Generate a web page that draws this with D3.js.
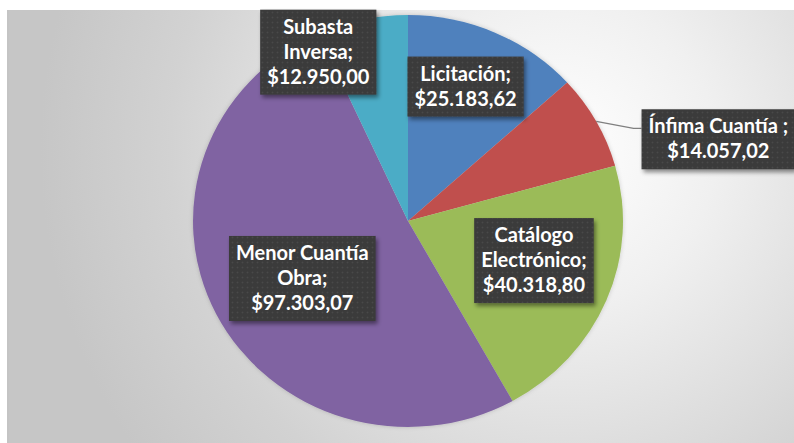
<!DOCTYPE html>
<html>
<head>
<meta charset="utf-8">
<script src="https://cdn.jsdelivr.net/npm/d3@7"></script>
<style>
  body { margin: 0; background: #fff; }
  svg { display: block; }
</style>
</head>
<body>
<script>
// data
const categories = ['Licitación', 'Ínfima Cuantía ', 'Catálogo Electrónico', 'Menor Cuantía Obra', 'Subasta Inversa']
const values = [25183.62, 14057.02, 40318.80, 97303.07, 12950.00]
const labelLines = [['Licitación;'], ['Ínfima Cuantía ;'], ['Catálogo', 'Electrónico;'], ['Menor Cuantía', 'Obra;'], ['Subasta', 'Inversa;']]
const colors = ['#4f81bd', '#c0504d', '#9bbb59', '#8064a2', '#4bacc6']

// label nudges from the slice centroid (x, y)
const labelNudge = [[1, -12], [188, -17], [-3, -12], [19, -3], [-60, -38]]

const W = 794, H = 443
const cx = 408, cy = 221, ry = 206, sx = 215 / 206

const esLocale = d3.formatLocale({ decimal: ',', thousands: '.', grouping: [3], currency: ['$', ''] })
const money = esLocale.format('$,.2f')

let svg, defs

function createSVG() {
  svg = d3.select('body').append('svg').attr('width', W).attr('height', H)
  defs = svg.append('defs')

  const bg = defs.append('radialGradient').attr('id', 'bg')
    .attr('gradientUnits', 'userSpaceOnUse')
    .attr('cx', 560).attr('cy', 150).attr('r', 520)
  bg.append('stop').attr('offset', 0).attr('stop-color', '#ffffff')
  bg.append('stop').attr('offset', 0.3).attr('stop-color', '#f0f0f0')
  bg.append('stop').attr('offset', 0.75).attr('stop-color', '#d2d2d2')
  bg.append('stop').attr('offset', 1).attr('stop-color', '#c6c6c6')

  const dots = defs.append('pattern').attr('id', 'dots')
    .attr('patternUnits', 'userSpaceOnUse').attr('width', 5).attr('height', 5)
  dots.append('rect').attr('width', 5).attr('height', 5).attr('fill', '#3a3a3a')
  dots.append('circle').attr('cx', 2.5).attr('cy', 2.5).attr('r', 0.9).attr('fill', '#4a4a4a')

  const sh = defs.append('filter').attr('id', 'shadow')
    .attr('x', '-20%').attr('y', '-20%').attr('width', '150%').attr('height', '150%')
  sh.append('feDropShadow').attr('dx', 2).attr('dy', 3).attr('stdDeviation', 2)
    .attr('flood-color', '#000').attr('flood-opacity', 0.45)

  const psh = defs.append('filter').attr('id', 'pieShadow')
    .attr('x', '-10%').attr('y', '-10%').attr('width', '120%').attr('height', '120%')
  psh.append('feDropShadow').attr('dx', 0).attr('dy', 0).attr('stdDeviation', 2)
    .attr('flood-color', '#000').attr('flood-opacity', 0.18)

  svg.append('rect')
    .attr('x', 7).attr('y', 10).attr('width', W - 7).attr('height', H - 10)
    .attr('fill', 'url(#bg)')
  svg.append('line')
    .attr('x1', 8).attr('y1', 10).attr('x2', 8).attr('y2', H)
    .attr('stroke', '#c4c4c4').attr('stroke-width', 2)
}

const pie = d3.pie().sort(null).value(d => d)
const arcs = pie(values)
const arc = d3.arc().innerRadius(0).outerRadius(ry)

function createPie() {
  const g = svg.append('g')
    .attr('transform', `translate(${cx},${cy}) scale(${sx},1)`)
    .attr('filter', 'url(#pieShadow)')
  g.selectAll('path.slice')
    .data(arcs)
    .join('path')
    .attr('class', 'slice')
    .attr('d', arc)
    .attr('fill', (d, i) => colors[i])
}

function anchorOf(d, f) {
  const a = (d.startAngle + d.endAngle) / 2
  return [cx + Math.sin(a) * ry * sx * f, cy - Math.cos(a) * ry * f]
}

function createLabels() {
  const lineH = 25, padX = 7, padY = 5
  arcs.forEach((d, i) => {
    const c = anchorOf(d, 0.65)
    const x = c[0] + labelNudge[i][0]
    const y = c[1] + labelNudge[i][1]
    const lines = labelLines[i].concat([money(values[i])])

    const g = svg.append('g').attr('class', 'label')
    const box = g.append('rect').attr('fill', 'url(#dots)').attr('filter', 'url(#shadow)')
    const t = g.append('text')
      .attr('text-anchor', 'middle')
      .attr('font-family', 'Lato, "Open Sans", sans-serif')
      .attr('font-weight', 'bold')
      .attr('font-size', 20)
      .attr('fill', '#ffffff')
    lines.forEach((s, k) => {
      t.append('tspan').attr('x', x)
        .attr('y', y - (lines.length * lineH) / 2 + lineH * (k + 1) - 6)
        .text(s)
    })
    let w = 0
    t.selectAll('tspan').each(function () { w = Math.max(w, this.getComputedTextLength()) })
    const bw = w + padX * 2, bh = lines.length * lineH + padY * 2
    box.attr('x', x - bw / 2).attr('y', y - bh / 2).attr('width', bw).attr('height', bh)

    if (labelNudge[i][0] > 100) {
      const e = anchorOf(d, 1)
      const bx = x - bw / 2
      svg.insert('polyline', 'g.label')
        .attr('points', [[e[0], e[1]], [bx - 8, y - 11], [bx, y - 11]].map(p => p.join(',')).join(' '))
        .attr('fill', 'none')
        .attr('stroke', '#7f7f7f')
        .attr('stroke-width', 1.3)
    }
  })
}

createSVG()
createPie()
createLabels()
</script>
</body>
</html>
